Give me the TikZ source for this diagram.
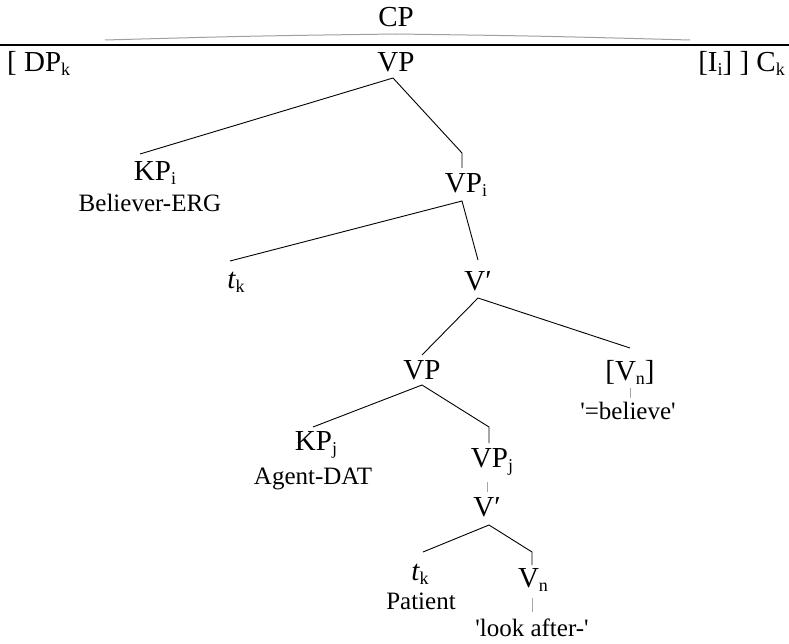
\documentclass[tikz,border=0pt]{standalone}
\usepackage{fontspec}
\setmainfont{Liberation Serif}[Ligatures=TeXOff]
\newcommand\lbsub[1]{\raisebox{-0.3ex}{\fontsize{18}{18}\selectfont #1}}
\begin{document}
\begin{tikzpicture}[x=1pt,y=-1pt,
  cat/.style={inner sep=0pt,font=\fontsize{29}{31}\selectfont},
  gloss/.style={inner sep=0pt,font=\fontsize{25}{27}\selectfont},
  branch/.style={line width=0.9pt,black}]
\useasboundingbox (0,0) rectangle (789,644);

% top bar: CP over the bracketed string
\node[cat] (cp) at (396,17) {CP};
\coordinate (cpL) at (105,40);
\coordinate (cpM) at (396,34);
\coordinate (cpR) at (690,40);
\draw[gray!75,line width=1pt] (cpL) .. controls (250,36) .. (cpM) .. controls (540,36) .. (cpR);
\coordinate (barL) at (0,45);
\coordinate (barR) at (789,45);
\draw[line width=1.2pt] (barL) -- (barR);

\node[cat,anchor=west] (dpk) at (7,63) {[ DP\lbsub{k}};
\node[cat] (vp0) at (396,62) {VP};
\node[cat,anchor=east] (ck) at (785,63) {[I\lbsub{i}] ] C\lbsub{k}};

% VP -> KP_i , VP_i
\coordinate (vp0a) at (393,78);
\coordinate (kpiT) at (140,154);
\coordinate (vpiB) at (462,153);
\coordinate (vpiT) at (462,168);
\node[cat] (kpi) at (155,173) {KP\lbsub{i}};
\node[gloss] (believer) at (150,203) {Believer-ERG};
\node[cat] (vpi) at (466,185) {VP\lbsub{i}};
\draw[branch] (kpiT) -- (vp0a) -- (vpiB) -- (vpiT);

% VP_i -> t_k , V'
\coordinate (vpia) at (462,201);
\coordinate (tkT) at (230,261);
\coordinate (vbarT) at (478,260);
\node[cat] (tk1) at (236,282) {\itshape t\upshape\lbsub{k}};
\node[cat] (vbar1) at (478,281) {V′};
\draw[branch] (tkT) -- (vpia) -- (vbarT);

% V' -> VP , [V_n]
\coordinate (vbar1a) at (478,298);
\coordinate (vp2T) at (422,355);
\coordinate (vnT) at (630,348);
\node[cat] (vp2) at (422,370) {VP};
\node[cat] (vn1) at (630,372) {[V\lbsub{n}]};
\node[gloss] (believe) at (628,411) {'=believe'};
\draw[branch] (vp2T) -- (vbar1a) -- (vnT);
\coordinate (vn1b) at (630,388);
\coordinate (believeT) at (630,398);
\draw[branch,gray!70] (vn1b) -- (believeT);

% VP -> KP_j , VP_j
\coordinate (vp2a) at (422,385);
\coordinate (kpjT) at (313,427);
\coordinate (vpjB) at (489,427);
\coordinate (vpjT) at (489,443);
\node[cat] (kpj) at (316,445) {KP\lbsub{j}};
\node[gloss] (agent) at (313,479) {Agent-DAT};
\node[cat] (vpj) at (492,462) {VP\lbsub{j}};
\draw[branch] (kpjT) -- (vp2a) -- (vpjB) -- (vpjT);

% VP_j -> V'
\coordinate (vpjb) at (487,482);
\coordinate (vbar2T) at (487,492);
\node[cat] (vbar2) at (487,507) {V′};
\draw[branch,gray!70] (vpjb) -- (vbar2T);

% V' -> t_k , V_n
\coordinate (vbar2a) at (489,525);
\coordinate (tk2T) at (423,552);
\coordinate (vn2B) at (532,552);
\coordinate (vn2T) at (532,565);
\node[cat] (tk2) at (420,574) {\itshape t\upshape\lbsub{k}};
\node[gloss] (patient) at (421,601) {Patient};
\node[cat] (vn2) at (533,580) {V\lbsub{n}};
\draw[branch] (tk2T) -- (vbar2a) -- (vn2B) -- (vn2T);
\coordinate (vn2b) at (532,598);
\coordinate (lookT) at (532,612);
\node[gloss] (look) at (532,628) {'look after-'};
\draw[branch,gray!70] (vn2b) -- (lookT);
\end{tikzpicture}
\end{document}
